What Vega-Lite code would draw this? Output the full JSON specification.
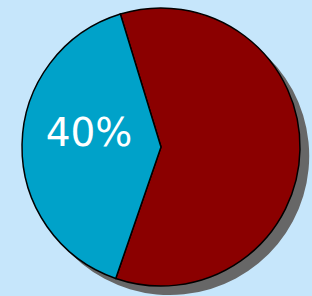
{
  "$schema": "https://vega.github.io/schema/vega-lite/v6.json",
  "width": 312,
  "height": 296,
  "autosize": {"type": "fit", "contains": "padding"},
  "padding": 0,
  "background": "#c6e6fb",
  "view": {"stroke": null},
  "data": {"values": [
    {"category": "Other", "value": 60, "order": 1, "label": ""},
    {"category": "Share", "value": 40, "order": 2, "label": "40%"}
  ]},
  "layer": [
    {
      "data": {"values": [{"value": 100}]},
      "mark": {"type": "arc", "radius": 139, "x": {"expr": "width/2+14"}, "y": {"expr": "height/2+8"}, "color": "#676767"},
      "encoding": {"theta": {"field": "value", "type": "quantitative", "stack": true}}
    },
    {
      "mark": {"type": "arc", "radius": 139, "x": {"expr": "width/2+5"}, "y": {"expr": "height/2-1"}, "stroke": "#000000", "strokeWidth": 1.5},
      "encoding": {
        "theta": {"field": "value", "type": "quantitative", "stack": true, "scale": {"range": [-0.2967, 5.9865]}},
        "order": {"field": "order", "type": "quantitative"},
        "color": {"field": "category", "type": "nominal", "scale": {"domain": ["Other", "Share"], "range": ["#8b0000", "#00a2c9"]}, "legend": null}
      }
    },
    {
      "mark": {"type": "text", "radius": 72, "x": {"expr": "width/2+5"}, "y": {"expr": "height/2-1"}, "dy": -12, "color": "#ffffff", "fontSize": 39, "font": "DejaVu Sans", "baseline": "middle", "align": "center"},
      "encoding": {
        "theta": {"field": "value", "type": "quantitative", "stack": true, "scale": {"range": [-0.2967, 5.9865]}},
        "order": {"field": "order", "type": "quantitative"},
        "text": {"field": "label", "type": "nominal"}
      }
    }
  ]
}
